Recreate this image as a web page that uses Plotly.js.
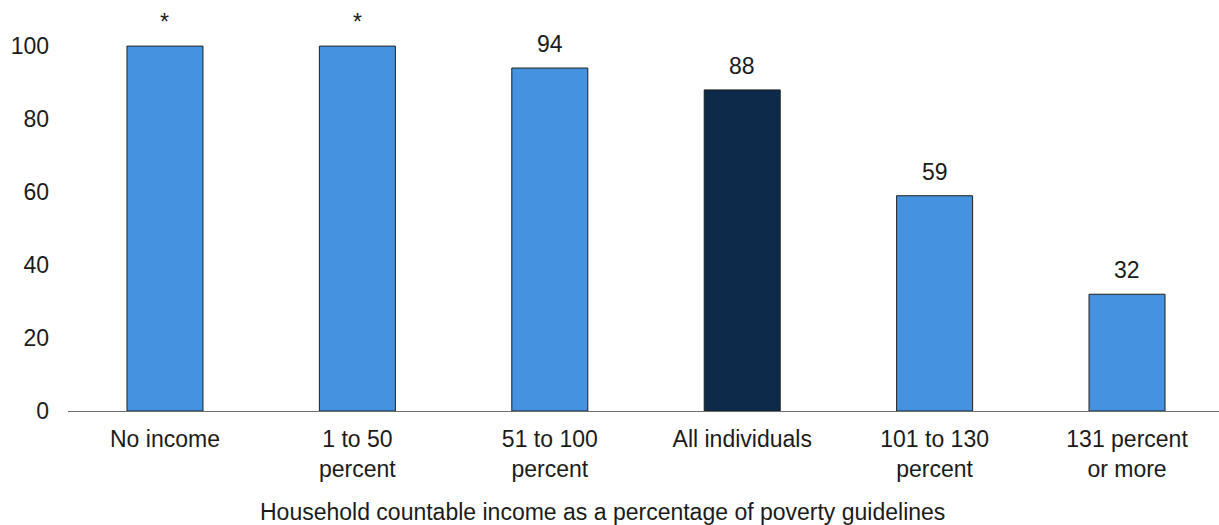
<!DOCTYPE html>
<html>
<head>
<meta charset="utf-8">
<script src="https://cdn.plot.ly/plotly-3.0.1.min.js"></script>
<style>
  html, body { margin: 0; padding: 0; background: #ffffff; }
  #chart { width: 1219px; height: 525px; }
</style>
</head>
<body>
<div id="chart"></div>
<script>
// Income groups (percent of poverty guidelines)
const categories = ["No income", "1 to 50<br>percent", "51 to 100<br>percent", "All individuals", "101 to 130<br>percent", "131 percent<br>or more"];
const values = [100, 100, 94, 88, 59, 32];
const valueLabels = ["*", "*", "94", "88", "59", "32"];
const barColors = ["#4592E1", "#4592E1", "#4592E1", "#0E2A4B", "#4592E1", "#4592E1"];
const yTicks = [0, 20, 40, 60, 80, 100];
const xTitle = "Household countable income as a percentage of poverty guidelines";

const FONT = "Liberation Sans, Arial, sans-serif";
const FONT_SIZE = 23;
const TEXT_COLOR = "#1b1b1b";

const xIdx = categories.map((_, i) => i);

const trace = {
  type: "bar",
  x: xIdx,
  y: values,
  width: 0.395,
  marker: { color: barColors, line: { color: "#1f1f1f", width: 1 } },
  hoverinfo: "skip"
};

const labelAnnotations = values.map((v, i) => ({
  x: xIdx[i], y: v, xref: "x", yref: "y",
  text: valueLabels[i], showarrow: false,
  yanchor: "middle", yshift: 24,
  font: { family: FONT, size: FONT_SIZE, color: TEXT_COLOR }
}));

const layout = {
  width: 1219, height: 525,
  margin: { l: 68, r: 0, t: 10, b: 114 },
  paper_bgcolor: "#ffffff", plot_bgcolor: "#ffffff",
  showlegend: false,
  bargap: 0,
  xaxis: {
    range: [-0.504, 5.478],
    tickmode: "array", tickvals: xIdx, ticktext: categories,
    showgrid: false, zeroline: false,
    showline: true, linecolor: "#6e6e6e", linewidth: 1.2,
    ticks: "", ticklabelstandoff: 7,
    tickfont: { family: FONT, size: FONT_SIZE, color: TEXT_COLOR },
    fixedrange: true
  },
  yaxis: {
    range: [0, 109.9],
    tickmode: "array", tickvals: yTicks,
    showgrid: false, zeroline: false, showline: false,
    ticks: "", ticklabelstandoff: 18,
    tickfont: { family: FONT, size: FONT_SIZE, color: TEXT_COLOR },
    fixedrange: true
  },
  annotations: labelAnnotations
};

// Axis title placed below the category labels, positioned in pixels.
const plotW = layout.width - layout.margin.l - layout.margin.r;
const plotH = layout.height - layout.margin.t - layout.margin.b;
layout.annotations = labelAnnotations.concat([{
  xref: "paper", yref: "paper",
  x: (602 - layout.margin.l) / plotW,
  y: (layout.height - layout.margin.b - 512) / plotH,
  xanchor: "center", yanchor: "middle",
  text: xTitle, showarrow: false,
  font: { family: FONT, size: FONT_SIZE, color: TEXT_COLOR }
}]);

Plotly.newPlot("chart", [trace], layout, { displayModeBar: false, staticPlot: true });
</script>
</body>
</html>
